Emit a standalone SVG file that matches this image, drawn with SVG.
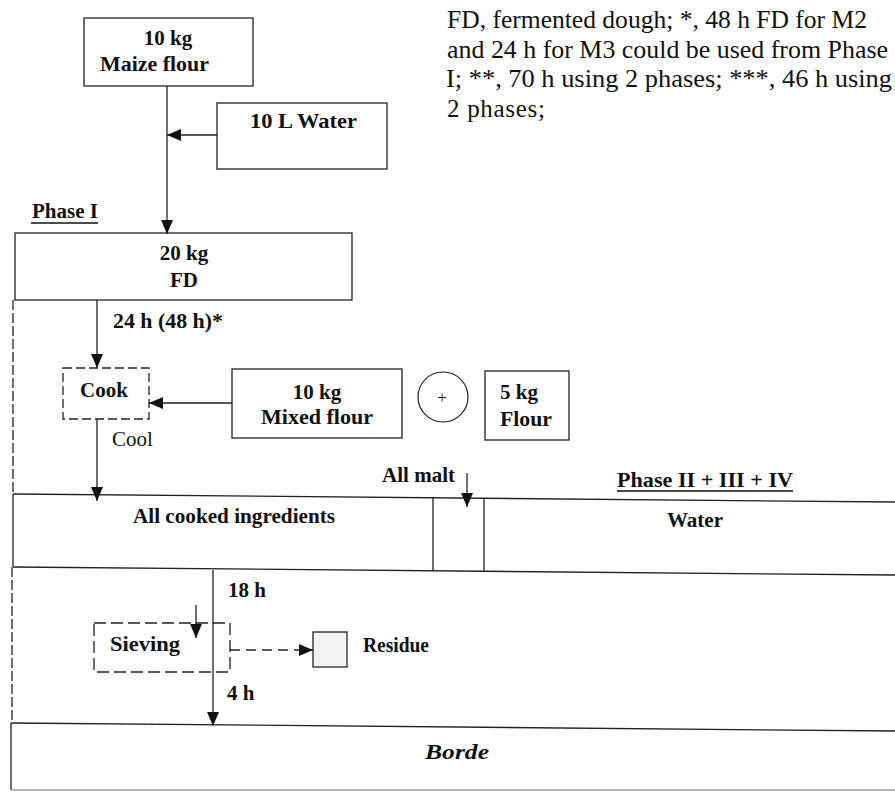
<svg xmlns="http://www.w3.org/2000/svg" width="895" height="792" viewBox="0 0 895 792">
<defs>
<style>
.b{font-family:"Liberation Serif","Times New Roman",serif;font-weight:bold;font-size:21px;fill:#111}
.r{font-family:"Liberation Serif","Times New Roman",serif;font-size:21px;fill:#111}
.fn{font-family:"Liberation Serif","Times New Roman",serif;font-size:25px;fill:#111}
.box{fill:#fff;stroke:#222;stroke-width:1.3}
.dbox{fill:none;stroke:#222;stroke-width:1.3;stroke-dasharray:9,4}
.ln{fill:none;stroke:#222;stroke-width:1.3}
.dl{fill:none;stroke:#222;stroke-width:1.3;stroke-dasharray:10,3}
.ul{stroke:#111;stroke-width:1.5}
</style>
<marker id="ah" markerUnits="userSpaceOnUse" markerWidth="14" markerHeight="12" refX="14" refY="6" orient="auto">
<path d="M0,0 L14,6 L0,12 z" fill="#111"/>
</marker>
</defs>
<rect width="895" height="792" fill="#fff"/>

<g id="footnote">
<text class="fn" x="447" y="28" textLength="420" lengthAdjust="spacingAndGlyphs">FD, fermented dough; *, 48 h FD for M2</text>
<text class="fn" x="447" y="58" textLength="441" lengthAdjust="spacingAndGlyphs">and 24 h for M3 could be used from Phase</text>
<text class="fn" x="446" y="87" textLength="446" lengthAdjust="spacingAndGlyphs">I; **, 70 h using 2 phases; ***, 46 h using</text>
<text class="fn" x="447" y="117" textLength="98" lengthAdjust="spacing">2 phases;</text>
</g>

<g id="maize">
<rect class="box" x="84" y="18" width="169" height="68"/>
<text class="b" x="168" y="45" text-anchor="middle">10 kg</text>
<text class="b" x="100" y="71" textLength="109" lengthAdjust="spacingAndGlyphs">Maize flour</text>
</g>

<g id="water1">
<rect class="box" x="217" y="103" width="170" height="66"/>
<text class="b" x="250" y="128" textLength="107" lengthAdjust="spacingAndGlyphs">10 L Water</text>
</g>

<g id="phase1">
<text class="b" x="32" y="218" textLength="66" lengthAdjust="spacingAndGlyphs">Phase I</text>
<line class="ul" x1="31" y1="223" x2="98" y2="223"/>
</g>

<g id="fd">
<rect class="box" x="15" y="233" width="337" height="67"/>
<text class="b" x="184" y="260" text-anchor="middle">20 kg</text>
<text class="b" x="184" y="287" text-anchor="middle">FD</text>
</g>

<g id="cook">
<rect class="dbox" x="63" y="368" width="86" height="51"/>
<text class="b" x="104" y="397" text-anchor="middle">Cook</text>
</g>

<g id="mixed">
<rect class="box" x="232" y="369" width="170" height="69"/>
<text class="b" x="317" y="399" text-anchor="middle">10 kg</text>
<text class="b" x="261" y="424" textLength="112" lengthAdjust="spacingAndGlyphs">Mixed flour</text>
</g>

<g id="plus">
<circle cx="443" cy="397" r="25" fill="none" stroke="#222" stroke-width="1.2"/>
<text x="442" y="403" text-anchor="middle" style="font-family:'Liberation Serif',serif;font-size:17px;fill:#111">+</text>
</g>

<g id="flour5">
<rect class="box" x="485" y="371" width="84" height="69"/>
<text class="b" x="500" y="399" textLength="38" lengthAdjust="spacingAndGlyphs">5 kg</text>
<text class="b" x="500" y="426" textLength="52" lengthAdjust="spacingAndGlyphs">Flour</text>
</g>

<g id="cooked-row">
<line class="ln" x1="13" y1="494" x2="895" y2="502"/>
<line class="ln" x1="13" y1="567" x2="895" y2="575"/>
<line class="ln" x1="13" y1="494" x2="13" y2="567"/>
<line class="ln" x1="433" y1="497" x2="433" y2="571"/>
<line class="ln" x1="484" y1="498" x2="484" y2="572"/>
<text class="b" x="133" y="523" textLength="202" lengthAdjust="spacingAndGlyphs">All cooked ingredients</text>
<text class="b" x="695" y="527" text-anchor="middle">Water</text>
<text class="b" x="382" y="482" textLength="73" lengthAdjust="spacingAndGlyphs">All malt</text>
<text class="b" x="617" y="487" textLength="176" lengthAdjust="spacingAndGlyphs">Phase II + III + IV</text>
<line class="ul" x1="617" y1="491" x2="793" y2="491"/>
</g>

<g id="sieving">
<rect class="dbox" x="94" y="623" width="136" height="49" style="stroke-dasharray:12,5"/>
<text class="b" x="110" y="651" textLength="70" lengthAdjust="spacingAndGlyphs">Sieving</text>
</g>

<g id="residue">
<rect class="box" x="313" y="632" width="34" height="35" style="fill:#f3f3f3"/>
<text class="b" x="363" y="652" textLength="66" lengthAdjust="spacingAndGlyphs">Residue</text>
</g>

<g id="borde">
<line class="ln" x1="11" y1="723" x2="895" y2="731"/>
<line class="ln" x1="11" y1="723" x2="11" y2="790"/>
<line class="ln" x1="11" y1="790" x2="895" y2="790" style="stroke:#999"/>
<text class="b" x="425" y="759" textLength="64" lengthAdjust="spacingAndGlyphs" font-style="italic">Borde</text>
</g>

<g id="labels">
<text class="b" x="113" y="328" textLength="110" lengthAdjust="spacingAndGlyphs">24 h (48 h)*</text>
<text class="r" x="112" y="446">Cool</text>
<text class="b" x="228" y="597">18 h</text>
<text class="b" x="227" y="700">4 h</text>
</g>

<g id="connectors">
<line class="dl" x1="13" y1="300" x2="13" y2="494"/>
<line class="dl" x1="12" y1="567" x2="12" y2="723"/>
<line class="ln" x1="167" y1="86" x2="167" y2="234" marker-end="url(#ah)"/>
<line class="ln" x1="217" y1="135" x2="167" y2="135" marker-end="url(#ah)"/>
<line class="ln" x1="97" y1="300" x2="97" y2="368" marker-end="url(#ah)"/>
<line class="ln" x1="232" y1="403" x2="149" y2="403" marker-end="url(#ah)"/>
<line class="ln" x1="97" y1="419" x2="97" y2="501" marker-end="url(#ah)"/>
<line class="ln" x1="467" y1="473" x2="467" y2="507" marker-end="url(#ah)"/>
<line class="ln" x1="213" y1="570" x2="213" y2="726" marker-end="url(#ah)"/>
<line class="ln" x1="196" y1="605" x2="196" y2="638" marker-end="url(#ah)"/>
<line class="ln" x1="230" y1="650" x2="313" y2="650" style="stroke-dasharray:10,6" marker-end="url(#ah)"/>
</g>
</svg>
